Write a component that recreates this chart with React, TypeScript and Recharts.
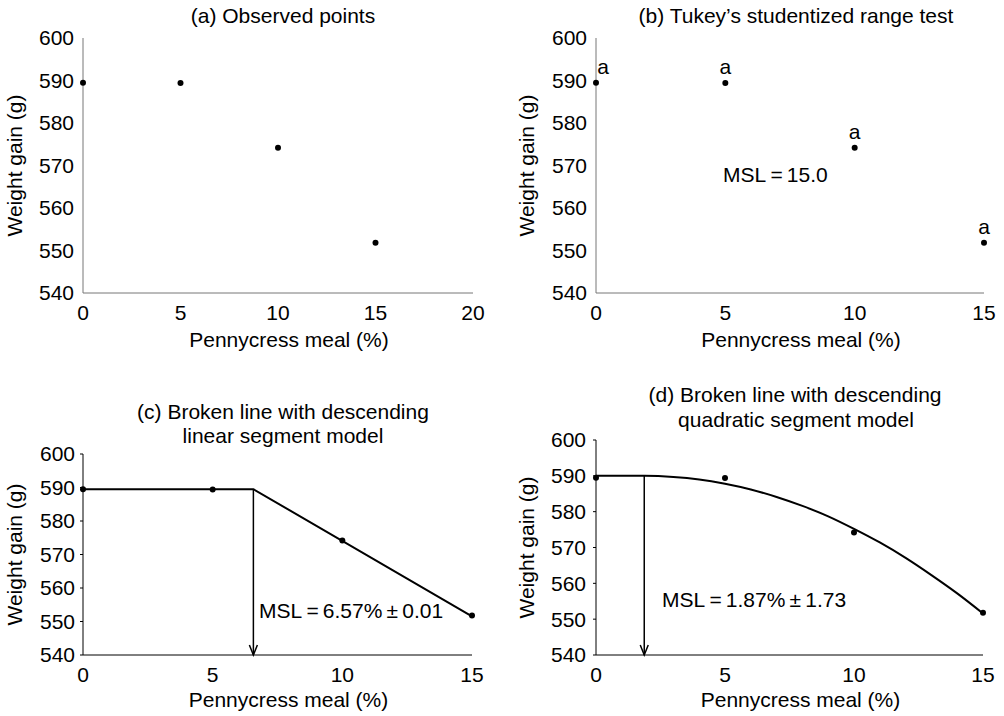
import React from "react";
import { ComposedChart, XAxis, YAxis, Scatter, Line, ReferenceLine } from "recharts";

// observed means
const pennycress = [0, 5, 10, 15];
const weightGain = [589.5, 589.4, 574.2, 551.8];
const tukeyGroups = ["a", "a", "a", "a"];

const yTicks = [540, 550, 560, 570, 580, 590, 600];
const xTicksWide = [0, 5, 10, 15, 20];
const xTicks = [0, 5, 10, 15];

// broken line, linear descending segment
const mslLinear = 6.57;
const linearModelX = [0, 6.57, 15];
const linearModelY = [589.5, 589.5, 551.5];

// broken line, quadratic descending segment
const mslQuad = 1.87;
const quadModelX = [0, 1.87, 3, 4, 5, 6, 7, 8, 9, 10, 11, 12, 13, 14, 15];
const quadModelY = [590, 590, 589.7, 589.0, 587.8, 586.2, 584.1, 581.6, 578.7, 575.2, 571.4, 567.1, 562.3, 557.2, 551.6];

const points = pennycress.map((x, i) => ({ x, y: weightGain[i], group: tukeyGroups[i] }));
const linearModel = linearModelX.map((x, i) => ({ x, y: linearModelY[i] }));
const quadModel = quadModelX.map((x, i) => ({ x, y: quadModelY[i] }));

const FONT = '"Liberation Sans", Arial, Helvetica, sans-serif';
const tickStyle = { fill: "#000", fontSize: 21 };

const Dot = (p: any) => <circle cx={p.cx} cy={p.cy} r={3} fill="#000" />;

const TukeyDot = (p: any) => (
  <g>
    <circle cx={p.cx} cy={p.cy} r={3} fill="#000" />
    <text
      x={p.cx + (p.payload.x === 0 ? 7 : 0)}
      y={p.cy - 9}
      textAnchor="middle"
      fontSize={21}
      fill="#000"
    >
      {p.payload.group}
    </text>
  </g>
);

const Arrow = (p: any) => {
  const { x1, y1, x2, y2 } = p;
  return (
    <g>
      <line x1={x1} y1={y1} x2={x2} y2={y2} stroke="#000" strokeWidth={1.5} />
      <polyline
        points={`${x2 - 4},${y2 - 10} ${x2},${y2} ${x2 + 4},${y2 - 10}`}
        fill="none"
        stroke="#000"
        strokeWidth={1.5}
      />
    </g>
  );
};

const xLabel = { value: "Pennycress meal (%)", position: "insideBottom", offset: 0, dx: 11, fill: "#000", fontSize: 21 };
const yLabel = (offset: number) => ({
  value: "Weight gain (g)",
  angle: -90,
  position: "insideLeft",
  offset,
  fill: "#000",
  fontSize: 21,
  style: { textAnchor: "middle" },
});

function TextAt({ x, baseline, center, children }: any) {
  const style: React.CSSProperties = {
    position: "absolute",
    top: baseline - 19.3,
    fontSize: 21,
    lineHeight: "24px",
    whiteSpace: "nowrap",
    color: "#000",
  };
  if (center) {
    style.left = x - 300;
    style.width = 600;
    style.textAlign = "center";
  } else {
    style.left = x;
  }
  return <div style={style}>{children}</div>;
}

export default function App() {
  return (
    <div style={{ position: "absolute", left: 0, top: 0, width: 1004, height: 716, background: "#fff", fontFamily: FONT }}>
      {/* (a) */}
      <div style={{ position: "absolute", left: 0, top: 0 }}>
        <ComposedChart width={500} height={360} margin={{ top: 38, right: 27, left: 0, bottom: 13 }}>
          <XAxis type="number" dataKey="x" domain={[0, 20]} ticks={xTicksWide} height={54} stroke="#777"
            tickLine={false} tickSize={6} tickMargin={6} tick={tickStyle} label={xLabel} />
          <YAxis type="number" dataKey="y" domain={[540, 600]} ticks={yTicks} width={83} stroke="#777"
            tickLine={false} tickSize={6} tickMargin={3} tick={tickStyle} label={yLabel(14.5)} />
          <Scatter data={points} dataKey="y" shape={Dot} isAnimationActive={false} />
        </ComposedChart>
      </div>

      {/* (b) */}
      <div style={{ position: "absolute", left: 500, top: 0 }}>
        <ComposedChart width={504} height={360} margin={{ top: 38, right: 20, left: 0, bottom: 13 }}>
          <XAxis type="number" dataKey="x" domain={[0, 15]} ticks={xTicks} height={54} stroke="#777"
            tickLine={false} tickSize={6} tickMargin={6} tick={tickStyle} label={xLabel} />
          <YAxis type="number" dataKey="y" domain={[540, 600]} ticks={yTicks} width={96} stroke="#777"
            tickLine={false} tickSize={6} tickMargin={3} tick={tickStyle} label={yLabel(27)} />
          <Scatter data={points} dataKey="y" shape={TukeyDot} isAnimationActive={false} />
        </ComposedChart>
      </div>

      {/* (c) */}
      <div style={{ position: "absolute", left: 0, top: 360 }}>
        <ComposedChart width={500} height={356} margin={{ top: 94, right: 28, left: 0, bottom: 9 }}>
          <XAxis type="number" dataKey="x" domain={[0, 15]} ticks={xTicks} height={52} stroke="#000"
            tickLine={false} tickSize={6} tickMargin={6} tick={tickStyle} label={xLabel} />
          <YAxis type="number" dataKey="y" domain={[540, 600]} ticks={yTicks} width={83} stroke="#000"
            tickSize={3} tickMargin={5} tick={tickStyle} label={yLabel(15)} />
          <Line data={linearModel} dataKey="y" type="linear" stroke="#000" strokeWidth={2} dot={false} isAnimationActive={false} />
          <ReferenceLine segment={[{ x: mslLinear, y: linearModelY[1] }, { x: mslLinear, y: 540 }]} ifOverflow="visible" shape={Arrow} />
          <Scatter data={points} dataKey="y" shape={Dot} isAnimationActive={false} />
        </ComposedChart>
      </div>

      {/* (d) */}
      <div style={{ position: "absolute", left: 500, top: 360 }}>
        <ComposedChart width={504} height={356} margin={{ top: 80, right: 21, left: 0, bottom: 9 }}>
          <XAxis type="number" dataKey="x" domain={[0, 15]} ticks={xTicks} height={52} stroke="#000"
            tickLine={false} tickSize={6} tickMargin={6} tick={tickStyle} label={xLabel} />
          <YAxis type="number" dataKey="y" domain={[540, 600]} ticks={yTicks} width={96} stroke="#000"
            tickSize={3} tickMargin={7} tick={tickStyle} label={yLabel(27)} />
          <Line data={quadModel} dataKey="y" type="monotone" stroke="#000" strokeWidth={2} dot={false} isAnimationActive={false} />
          <ReferenceLine segment={[{ x: mslQuad, y: quadModelY[1] }, { x: mslQuad, y: 540 }]} ifOverflow="visible" shape={Arrow} />
          <Scatter data={points} dataKey="y" shape={Dot} isAnimationActive={false} />
        </ComposedChart>
      </div>

      <TextAt x={283} baseline={23} center>(a) Observed points</TextAt>
      <TextAt x={796} baseline={23} center>(b) Tukey’s studentized range test</TextAt>
      <TextAt x={283} baseline={419} center>(c) Broken line with descending</TextAt>
      <TextAt x={283} baseline={443} center>linear segment model</TextAt>
      <TextAt x={795} baseline={402} center>(d) Broken line with descending</TextAt>
      <TextAt x={796} baseline={427} center>quadratic segment model</TextAt>

      <TextAt x={723} baseline={182}>MSL{"\u2009=\u2009"}15.0</TextAt>
      <TextAt x={259} baseline={618}>MSL{"\u2009=\u2009"}6.57%{"\u2009±\u2009"}0.01</TextAt>
      <TextAt x={662} baseline={607}>MSL{"\u2009=\u2009"}1.87%{"\u2009±\u2009"}1.73</TextAt>
    </div>
  );
}
